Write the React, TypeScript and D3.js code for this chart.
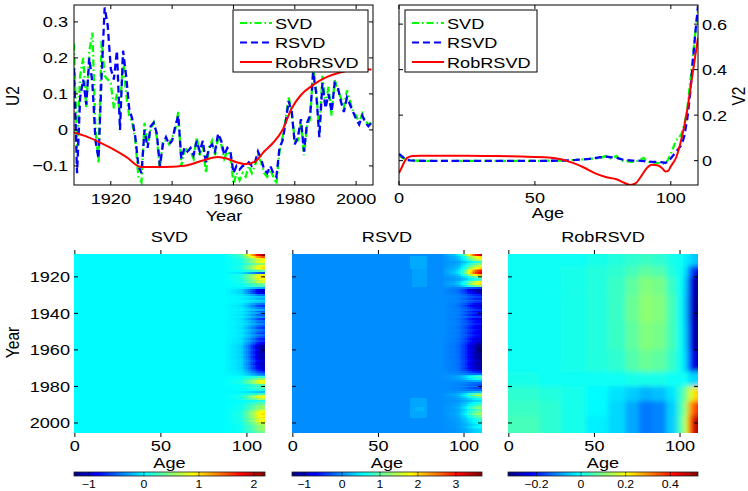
import React from 'react';
import * as d3 from 'd3';

// ---- data ----
const years = d3.range(1908, 2006);

const u2Rsvd = [
  0.17, -0.12, 0.09, 0.14, 0.07, 0.2, 0.13, -0.03, -0.08, 0.15,
  0.34, 0.29, 0.17, 0.14, 0.22, 0.0, 0.22, 0.15, 0.06, 0.03,
  -0.02, -0.1, -0.12, 0.0, -0.05, 0.01, 0.02, -0.01, -0.1, -0.04,
  -0.02, -0.04, -0.03, 0.01, 0.04, -0.08, -0.05, -0.06, -0.05, -0.07,
  -0.03, -0.06, -0.03, -0.09, -0.05, -0.04, -0.06, -0.01, -0.03, -0.07,
  -0.05, -0.06, -0.12, -0.1, -0.11, -0.1, -0.1, -0.09, -0.1, -0.09,
  -0.06, -0.08, -0.11, -0.12, -0.1, -0.12, -0.13, -0.05, -0.03, 0.02,
  0.08, 0.05, -0.04, -0.02, 0.03, -0.06, 0.02, 0.04, 0.16, 0.1,
  -0.02, 0.13, 0.06, 0.1, 0.05, 0.13, 0.12, 0.08, 0.05, 0.09,
  0.07, 0.05, 0.03, 0.015, 0.04, 0.02, 0.01, 0.02,
];
const u2Svd = [
  0.24, -0.05, 0.15, 0.2, 0.06, 0.22, 0.27, 0.0, -0.09, 0.25,
  0.15, 0.14, 0.13, 0.06, 0.1, 0.05, 0.2, 0.1, 0.04, 0.02,
  -0.03, -0.13, -0.145, 0.02, -0.04, 0.0, 0.02, -0.02, -0.11, -0.03,
  -0.03, -0.04, -0.02, 0.0, 0.05, -0.1, -0.06, -0.05, -0.06, -0.08,
  -0.02, -0.07, -0.04, -0.12, -0.05, -0.03, -0.07, -0.02, -0.04, -0.08,
  -0.06, -0.07, -0.15, -0.12, -0.14, -0.12, -0.13, -0.1, -0.12, -0.1,
  -0.07, -0.09, -0.12, -0.13, -0.11, -0.13, -0.15, -0.06, -0.02, 0.03,
  0.09, 0.05, -0.03, -0.03, 0.02, -0.07, 0.01, 0.03, 0.17, 0.11,
  -0.01, 0.15, 0.07, 0.12, 0.04, 0.14, 0.11, 0.09, 0.06, 0.11,
  0.08, 0.05, 0.04, 0.02, 0.045, 0.025, 0.015, 0.02,
];
const u2RobYears = [1908, 1912, 1916, 1920, 1925, 1930, 1935, 1940, 1945, 1950, 1955, 1958, 1961, 1964, 1967, 1970, 1973, 1976, 1979, 1982, 1986, 1990, 1995, 2000, 2005];
const u2Rob = [-0.007, -0.018, -0.033, -0.05, -0.075, -0.103, -0.103, -0.102, -0.098, -0.085, -0.075, -0.08, -0.09, -0.095, -0.088, -0.06, -0.035, 0.0, 0.06, 0.097, 0.125, 0.145, 0.16, 0.168, 0.168];

const v2Ages = [0, 1, 2, 3, 4, 6, 10, 20, 30, 40, 50, 60, 65, 70, 74, 76, 78, 80, 82, 84, 86, 88, 90, 91, 93, 95, 97, 98, 99, 100, 101, 102, 103, 104, 105, 106, 107, 108, 109, 110];
const v2Rsvd = [
  0.03, 0.02, 0.01, 0.004, 0.001, 0, -0.001, -0.001, -0.001, -0.001,
  -0.001, 0.0, 0.003, 0.008, 0.015, 0.018, 0.015, 0.012, 0.006, 0.002,
  0.0, 0.0, -0.002, -0.004, -0.005, -0.005, -0.008, -0.01, -0.005, 0.01,
  0.025, 0.04, 0.055, 0.07, 0.11, 0.18, 0.28, 0.42, 0.56, 0.68,
];
const v2Svd = [
  0.025, 0.015, 0.008, 0.003, 0.001, 0, -0.001, -0.001, -0.001, -0.001,
  -0.001, 0.0, 0.003, 0.008, 0.012, 0.02, 0.01, 0.02, 0.0, -0.003,
  -0.005, 0.0, 0.012, -0.003, -0.008, -0.01, -0.012, -0.015, 0.005, 0.03,
  0.06, 0.09, 0.1, 0.12, 0.16, 0.22, 0.33, 0.44, 0.56, 0.66,
];
const v2RobAges = [0, 1, 2, 3, 5, 8, 15, 25, 35, 45, 55, 60, 64, 68, 72, 76, 80, 83, 85, 87, 89, 91, 93, 95, 97, 98, 99, 100, 102, 104, 106, 108, 110];
const v2Rob = [
  -0.055, -0.03, -0.005, 0.012, 0.02, 0.022, 0.022, 0.021, 0.02, 0.018,
  0.014, 0.005, -0.01, -0.03, -0.055, -0.072, -0.082, -0.098, -0.107, -0.1,
  -0.07, -0.035, -0.018, -0.02, -0.035, -0.048, -0.045, -0.025, 0.015, 0.1,
  0.22, 0.38, 0.54,
];

// residual heatmaps: value at the oldest age for each year, faded towards younger ages
const svdStripe = [
  2.1, 1.5, 1.0, 0.8, 0.9, 0.5, 0.9, 1.0, 0.7, 0.3,
  -0.6, 0.9, 1.0, 0.9, 0.7, 0.8, 0.4, 0.3, -0.3, -1.0,
  -1.1, -1.0, -0.5, -0.2, -0.3, -0.1, -0.2, -0.5, -0.7, -0.5,
  -0.3, -0.6, -0.4, -0.6, -0.4, -0.7, -0.5, -0.6, -0.4, -0.6,
  -0.7, -0.5, -0.6, -0.7, -0.5, -0.6, -0.8, -0.7, -0.9, -1.0,
  -1.2, -1.2, -1.1, -1.2, -1.2, -1.1, -1.2, -1.1, -1.0, -1.1,
  -1.2, -1.0, -1.1, -0.9, -0.7, -0.5, -0.3, 0.2, 0.5, 0.9,
  0.8, 0.3, 0.2, 0.3, 0.1, -0.2, 0.2, 0.7, 0.9, 0.6,
  0.1, 0.3, 0.4, 0.6, 0.5, 0.7, 0.9, 1.0, 0.9, 1.0,
  0.8, 0.9, 0.7, 0.6, 0.5, 0.6, 0.5, 0.4,
];
const rsvdStripe = [
  3.3, 2.0, 1.8, 1.5, 0.8, 1.2, 1.6, 2.0, 2.5, 3.0,
  3.2, 2.2, 1.2, 0.8, 1.0, 1.8, 2.0, 1.2, -0.4, -1.2,
  -1.3, -1.0, -0.6, -0.4, -0.6, -0.3, -0.5, -0.8, -1.0, -0.7,
  -0.5, -0.8, -0.6, -0.8, -0.5, -0.9, -0.7, -0.8, -0.6, -0.8,
  -0.9, -0.7, -0.8, -0.9, -0.7, -0.8, -1.0, -0.9, -1.1, -1.2,
  -1.3, -1.3, -1.2, -1.3, -1.3, -1.2, -1.3, -1.2, -1.1, -1.2,
  -1.3, -1.1, -1.2, -1.0, -0.6, -0.2, 0.6, 0.9, 0.7, 0.2,
  -0.2, -0.3, -0.1, -0.4, -0.2, 0.3, 1.2, 1.6, 1.0, 0.6,
  0.4, 0.7, 0.9, 1.1, 1.3, 1.0, 1.2, 1.4, 1.1, 1.0,
  0.8, 0.7, 0.6, 0.5, 0.6, 0.5, 0.4, 0.4,
];
const stripeAges = d3.range(88, 111);
const stripeWeight = [
  0.02, 0.03, 0.04, 0.05, 0.06, 0.07, 0.08, 0.1, 0.12, 0.15,
  0.2, 0.26, 0.32, 0.4, 0.48, 0.56, 0.64, 0.72, 0.8, 0.87,
  0.93, 0.97, 1.0,
];
// [yearFrom, yearTo, ageFrom, ageTo, value]
const rsvdPatches = [
  [1909, 1915, 69, 78, 0.14],
  [1916, 1925, 70, 78, 0.1],
  [1987, 1997, 69, 78, 0.12],
  [1992, 1993, 72, 76, 0.2],
];

const robYearEdges = [1907.5, 1914, 1920, 1930, 1945, 1960, 1972, 1980, 1988, 1996, 2005.5];
const robAgeEdges = [-0.5, 8, 18, 30, 45, 58, 68, 76, 84, 92, 98, 102, 105, 108, 110.5];
const robGrid = [
  [0.0, 0.0, 0.0, 0.0, 0.01, 0.02, 0.03, 0.04, 0.03, 0.01, 0.0, -0.02, -0.04, -0.06],
  [0.0, 0.0, 0.0, 0.01, 0.02, 0.03, 0.05, 0.07, 0.06, 0.02, 0.0, -0.04, -0.16, -0.24],
  [0.0, 0.0, 0.0, 0.01, 0.02, 0.04, 0.07, 0.1, 0.09, 0.04, 0.0, -0.06, -0.24, -0.31],
  [0.0, 0.0, 0.0, 0.01, 0.02, 0.04, 0.08, 0.11, 0.1, 0.05, 0.0, -0.07, -0.25, -0.32],
  [0.0, 0.0, 0.0, 0.01, 0.02, 0.04, 0.07, 0.1, 0.09, 0.05, 0.0, -0.06, -0.24, -0.31],
  [0.0, 0.0, 0.0, 0.01, 0.02, 0.03, 0.06, 0.08, 0.07, 0.04, 0.0, -0.05, -0.2, -0.27],
  [0.01, 0.01, 0.0, 0.0, 0.0, 0.0, 0.01, 0.01, 0.01, 0.0, 0.0, 0.0, -0.04, -0.04],
  [0.03, 0.03, 0.02, 0.01, -0.01, -0.03, -0.05, -0.07, -0.06, -0.03, 0.03, 0.1, 0.18, 0.24],
  [0.04, 0.04, 0.03, 0.01, -0.01, -0.04, -0.08, -0.12, -0.11, -0.05, 0.04, 0.13, 0.3, 0.38],
  [0.05, 0.05, 0.03, 0.01, -0.02, -0.04, -0.08, -0.12, -0.11, -0.05, 0.05, 0.16, 0.38, 0.48],
];

const u2Ticks = [-0.1, 0, 0.1, 0.2, 0.3];
const yearTicks = [1920, 1940, 1960, 1980, 2000];
const ageTicks = [0, 50, 100];
const v2Ticks = [0, 0.2, 0.4, 0.6];
const svdCbTicks = [-1, 0, 1, 2];
const rsvdCbTicks = [-1, 0, 1, 2, 3];
const robCbTicks = [-0.2, 0, 0.2, 0.4];
const legendNames = ['SVD', 'RSVD', 'RobRSVD'];

// ---- styling ----
const FONT = '"Liberation Sans", Arial, Helvetica, sans-serif';
const GREEN = '#00ff00';
const BLUE = '#0000ff';
const RED = '#ff0000';
const dashes = ['7,3,1.5,3', '7,4', null];
const colors = [GREEN, BLUE, RED];

const fmt = (v: number) => (v < 0 ? '\u2212' + Math.abs(v) : String(v));

function jet(t: number) {
  t = Math.max(0, Math.min(1, t));
  const c = (v: number) => Math.round(255 * Math.max(0, Math.min(1, 1.5 - Math.abs(v))));
  return `rgb(${c(4 * t - 3)},${c(4 * t - 2)},${c(4 * t - 1)})`;
}

function Label({ x, y, anchor = 'middle', size = 15.5, rotate = 0, children }: any) {
  const tf = `translate(${x},${y}) scale(1.17,1)` + (rotate ? ` rotate(${rotate})` : '');
  return (
    <text transform={tf} textAnchor={anchor} fontSize={size} fontFamily={FONT} fill="#000">
      {children}
    </text>
  );
}

function Frame({ x, y, xTicks, yTicks, tick = 4 }: any) {
  const [x0, x1] = x.range();
  const [y1, y0] = y.range();
  return (
    <g stroke="#000" strokeWidth={1} fill="none">
      {xTicks.map((t: number) => (
        <g key={'x' + t}>
          <line x1={x(t)} x2={x(t)} y1={y1} y2={y1 - tick} />
          <line x1={x(t)} x2={x(t)} y1={y0} y2={y0 + tick} />
        </g>
      ))}
      {yTicks.map((t: number) => (
        <g key={'y' + t}>
          <line x1={x0} x2={x0 + tick} y1={y(t)} y2={y(t)} />
          <line x1={x1} x2={x1 - tick} y1={y(t)} y2={y(t)} />
        </g>
      ))}
      <rect x={x0} y={y0} width={x1 - x0} height={y1 - y0} />
    </g>
  );
}

function Legend({ x, y, w }: any) {
  return (
    <g>
      <rect x={x} y={y} width={w} height={62} fill="#fff" stroke="#000" strokeWidth={1} />
      {legendNames.map((n, i) => (
        <g key={n}>
          <line x1={x + 7} x2={x + 39} y1={y + 13 + i * 19.5} y2={y + 13 + i * 19.5}
            stroke={colors[i]} strokeWidth={2} strokeDasharray={dashes[i] || undefined} />
          <Label x={x + 42} y={y + 18.5 + i * 19.5} anchor="start">{n}</Label>
        </g>
      ))}
    </g>
  );
}

function LinePanel() {
  const x = d3.scaleLinear().domain([1908, 2005.5]).range([74, 373]);
  const y = d3.scaleLinear().domain([-0.153, 0.347]).range([185, 5]);
  const line = d3.line<number>().x((_, i) => x(years[i])).y((d) => y(d));
  const rob = d3.line<number>().x((_, i) => x(u2RobYears[i])).y((d) => y(d)).curve(d3.curveMonotoneX);

  const x2 = d3.scaleLinear().domain([0, 110]).range([399, 698]);
  const y2 = d3.scaleLinear().domain([-0.107, 0.684]).range([185, 5]);
  const vline = d3.line<number>().x((_, i) => x2(v2Ages[i])).y((d) => y2(d));
  const vrob = d3.line<number>().x((_, i) => x2(v2RobAges[i])).y((d) => y2(d)).curve(d3.curveMonotoneX);

  return (
    <g>
      <defs>
        <clipPath id="clipU"><rect x={74} y={5} width={299} height={180} /></clipPath>
        <clipPath id="clipV"><rect x={399} y={5} width={299} height={180} /></clipPath>
      </defs>
      <g clipPath="url(#clipU)" fill="none" strokeWidth={2.3}>
        <path d={line(u2Svd)!} stroke={GREEN} strokeDasharray={dashes[0]!} />
        <path d={line(u2Rsvd)!} stroke={BLUE} strokeDasharray={dashes[1]!} />
        <path d={rob(u2Rob)!} stroke={RED} strokeWidth={2} />
      </g>
      <Frame x={x} y={y} xTicks={yearTicks} yTicks={u2Ticks} />
      <Legend x={233} y={10} w={135} />
      {u2Ticks.map((t) => <Label key={t} x={68} y={y(t) + 5.5} anchor="end">{fmt(t)}</Label>)}
      {yearTicks.map((t) => <Label key={t} x={x(t)} y={203.5} >{t}</Label>)}
      <Label x={224} y={220.5}>Year</Label>
      <Label x={19} y={96} rotate={-90}>U2</Label>

      <g clipPath="url(#clipV)" fill="none" strokeWidth={2.3}>
        <path d={vline(v2Svd)!} stroke={GREEN} strokeDasharray={dashes[0]!} />
        <path d={vline(v2Rsvd)!} stroke={BLUE} strokeDasharray={dashes[1]!} />
        <path d={vrob(v2Rob)!} stroke={RED} strokeWidth={2} />
      </g>
      <Frame x={x2} y={y2} xTicks={ageTicks} yTicks={v2Ticks} />
      <Legend x={405} y={10} w={132} />
      {v2Ticks.map((t) => <Label key={t} x={702} y={y2(t) + 5.5} anchor="start">{fmt(t)}</Label>)}
      {ageTicks.map((t) => <Label key={t} x={x2(t)} y={203}>{t}</Label>)}
      <Label x={548} y={218}>Age</Label>
      <Label x={745} y={96} rotate={-90}>V2</Label>
    </g>
  );
}

function Colorbar({ id, x0, x1, domain, ticks }: any) {
  const c = d3.scaleLinear().domain(domain).range([x0, x1]);
  const stops = d3.range(0, 65).map((i) => i / 64);
  return (
    <g>
      <defs>
        <linearGradient id={id} x1="0" x2="1" y1="0" y2="0">
          {stops.map((s) => <stop key={s} offset={s} stopColor={jet(s)} />)}
        </linearGradient>
      </defs>
      <rect x={x0} y={472} width={x1 - x0} height={4} fill={`url(#${id})`} stroke="#222" strokeWidth={0.8} />
      {ticks.map((t: number) => (
        <g key={t} stroke="#000" strokeWidth={0.8}>
          <line x1={c(t)} x2={c(t)} y1={472} y2={473.5} />
          <line x1={c(t)} x2={c(t)} y1={476} y2={474.5} />
        </g>
      ))}
      {ticks.map((t: number) => <Label key={'l' + t} x={c(t)} y={487.5} size={10.5}>{fmt(t)}</Label>)}
    </g>
  );
}

function StripeMap({ x0, x1, domain, stripe, base, patches, cbTicks, id, title, showYear }: any) {
  const x = d3.scaleLinear().domain([-0.5, 110.5]).range([x0, x1]);
  const y = d3.scaleLinear().domain([1907.5, 2005.5]).range([254, 433]);
  const col = (v: number) => jet((v - domain[0]) / (domain[1] - domain[0]));
  return (
    <g>
      <g shapeRendering="crispEdges">
        <rect x={x0} y={254} width={x1 - x0} height={179} fill={col(base)} />
        {patches.map((p: number[], i: number) => (
          <rect key={'p' + i} x={x(p[2] - 0.5)} width={x(p[3] + 0.5) - x(p[2] - 0.5)}
            y={y(p[0] - 0.5)} height={y(p[1] + 0.5) - y(p[0] - 0.5)} fill={col(base + p[4])} />
        ))}
        {years.map((yr, i) =>
          stripeAges.map((a, j) => (
            <rect key={yr + '-' + a} x={x(a - 0.5)} width={x(a + 0.5) - x(a - 0.5)}
              y={y(yr - 0.5)} height={y(yr + 0.5) - y(yr - 0.5)}
              fill={col(base + stripe[i] * stripeWeight[j])} />
          ))
        )}
      </g>
      <Frame x={x} y={y} xTicks={ageTicks} yTicks={yearTicks} />
      <Label x={(x0 + x1) / 2} y={241.7}>{title}</Label>
      {ageTicks.map((t) => <Label key={t} x={x(t)} y={451}>{t}</Label>)}
      <Label x={(x0 + x1) / 2} y={467.5}>Age</Label>
      {showYear && yearTicks.map((t) => <Label key={t} x={70} y={y(t) + 5.5} anchor="end">{t}</Label>)}
      {showYear && <Label x={18.5} y={342.5} rotate={-90}>Year</Label>}
      <Colorbar id={id} x0={x0} x1={x1} domain={domain} ticks={cbTicks} />
    </g>
  );
}

function RobMap() {
  const x0 = 508, x1 = 698;
  const domain = [-0.327, 0.524];
  const x = d3.scaleLinear().domain([-0.5, 110.5]).range([x0, x1]);
  const y = d3.scaleLinear().domain([1907.5, 2005.5]).range([254, 433]);
  const col = (v: number) => jet((v - domain[0]) / (domain[1] - domain[0]));
  const nY = robYearEdges.length - 1;
  const nA = robAgeEdges.length - 1;
  return (
    <g>
      <defs>
        <clipPath id="clipRob"><rect x={x0} y={254} width={x1 - x0} height={179} /></clipPath>
        <filter id="blurRob" x="-10%" y="-10%" width="120%" height="120%">
          <feGaussianBlur stdDeviation={2.6} />
        </filter>
      </defs>
      <g clipPath="url(#clipRob)">
        <g filter="url(#blurRob)">
          {robGrid.map((row, i) =>
            row.map((v, j) => {
              const ya = y(robYearEdges[i]) - (i === 0 ? 12 : 0);
              const yb = y(robYearEdges[i + 1]) + (i === nY - 1 ? 12 : 0);
              const xa = x(robAgeEdges[j]) - (j === 0 ? 12 : 0);
              const xb = x(robAgeEdges[j + 1]) + (j === nA - 1 ? 12 : 0);
              return <rect key={i + '-' + j} x={xa} y={ya} width={xb - xa + 0.5} height={yb - ya + 0.5} fill={col(v)} />;
            })
          )}
        </g>
      </g>
      <Frame x={x} y={y} xTicks={ageTicks} yTicks={yearTicks} />
      <Label x={(x0 + x1) / 2} y={241.7}>RobRSVD</Label>
      {ageTicks.map((t) => <Label key={t} x={x(t)} y={451}>{t}</Label>)}
      <Label x={(x0 + x1) / 2} y={467.5}>Age</Label>
      <Colorbar id="cbRob" x0={x0} x1={x1} domain={domain} ticks={robCbTicks} />
    </g>
  );
}

export default function App() {
  return (
    <div style={{ position: 'absolute', left: 0, top: 0, width: 748, height: 491, background: '#fff' }}>
      <svg width={748} height={491} style={{ display: 'block' }}>
        <rect width={748} height={491} fill="#fff" />
        <LinePanel />
        <StripeMap x0={74} x1={265} domain={[-1.27, 2.2]} stripe={svdStripe} base={0.02} patches={[]}
          cbTicks={svdCbTicks} id="cbSvd" title="SVD" showYear />
        <StripeMap x0={292} x1={482} domain={[-1.32, 3.69]} stripe={rsvdStripe} base={0} patches={rsvdPatches}
          cbTicks={rsvdCbTicks} id="cbRsvd" title="RSVD" />
        <RobMap />
      </svg>
    </div>
  );
}
